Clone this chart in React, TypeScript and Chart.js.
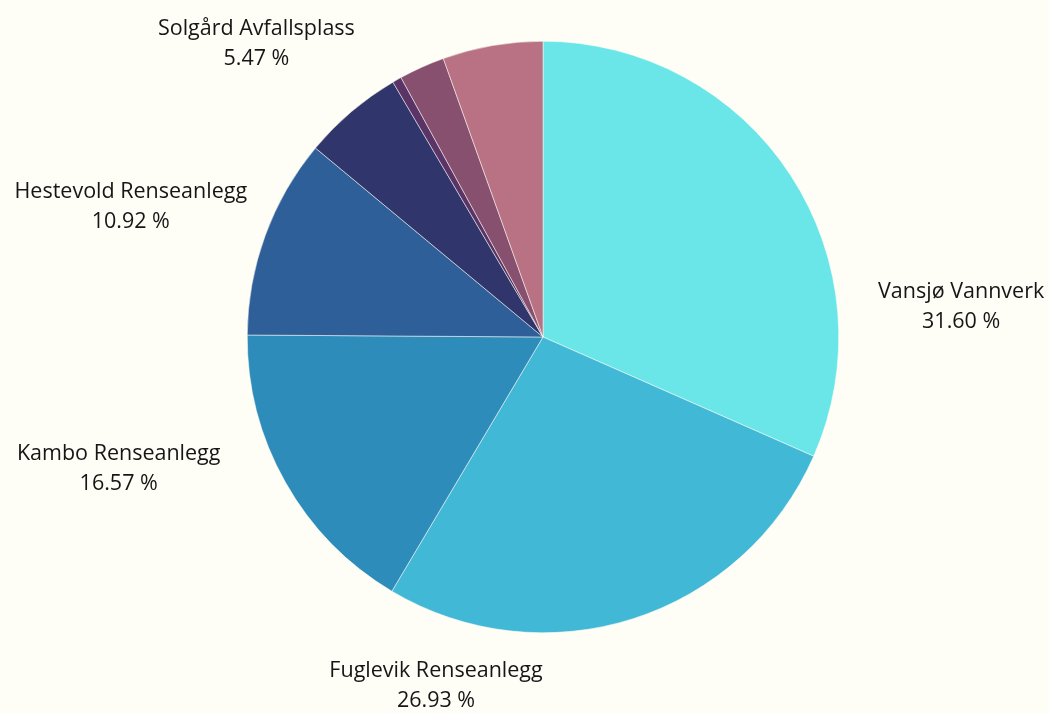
import React, { useEffect, useRef } from "react";
import { Chart, registerables } from "chart.js";

Chart.register(...registerables);

const labels = [
  "Vansjø Vannverk",
  "Fuglevik Renseanlegg",
  "Kambo Renseanlegg",
  "Hestevold Renseanlegg",
  "",
  "",
  "",
  "Solgård Avfallsplass",
];
const shares = [31.6, 26.93, 16.57, 10.92, 5.5, 0.5, 2.5, 5.47];
const colors = [
  "#6ae5e8",
  "#42b8d7",
  "#2e8cbb",
  "#2e5f99",
  "#30356b",
  "#5a3466",
  "#87506f",
  "#b97283",
];

// label placement (angle clockwise from 12 o'clock, distance in radius units)
const labelAngleDeg = [85.6, 197.1, 252.9, 287.7, 0, 0, 0, 315.8];
const labelDist = [1.418, 1.23, 1.501, 1.463, 0, 0, 0, 1.39];

const BG = "#fefef6";
const FONT = "Open Sans";
const FONT_SIZE = 21.5;
const LINE_GAP = 30;

const labelPlugin = {
  id: "outerLabels",
  afterDatasetsDraw(chart: any) {
    const ctx = chart.ctx;
    const meta = chart.getDatasetMeta(0);
    ctx.save();
    ctx.fillStyle = "#161616";
    ctx.font = `${FONT_SIZE}px "${FONT}"`;
    ctx.textAlign = "center";
    ctx.textBaseline = "alphabetic";
    meta.data.forEach((arc: any, i: number) => {
      const name = labels[i];
      if (!name) return;
      const r = arc.outerRadius;
      const a = (labelAngleDeg[i] * Math.PI) / 180;
      const cx = arc.x + Math.sin(a) * labelDist[i] * r;
      const cy = arc.y - Math.cos(a) * labelDist[i] * r;
      const capShift = FONT_SIZE * 0.357;
      ctx.fillText(name, cx, cy - LINE_GAP / 2 + capShift);
      ctx.fillText(`${shares[i].toFixed(2)} %`, cx, cy + LINE_GAP / 2 + capShift);
    });
    ctx.restore();
  },
};

export default function App() {
  const ref = useRef<HTMLCanvasElement | null>(null);
  useEffect(() => {
    document.body.style.margin = "0";
    document.body.style.background = BG;
    if (!ref.current) return;
    const chart = new Chart(ref.current, {
      type: "pie",
      data: {
        labels,
        datasets: [
          {
            data: shares,
            backgroundColor: colors,
            borderColor: BG,
            borderWidth: 0.5,
          },
        ],
      },
      options: {
        responsive: false,
        animation: false,
        devicePixelRatio: 1,
        layout: { padding: { top: 41, bottom: 80, left: 100, right: 63 } },
        plugins: {
          legend: { display: false },
          tooltip: { enabled: false },
        },
      },
      plugins: [labelPlugin],
    });
    return () => chart.destroy();
  }, []);
  return (
    <div style={{ width: 1049, height: 713, background: BG }}>
      <canvas ref={ref} width={1049} height={713} style={{ display: "block" }} />
    </div>
  );
}
